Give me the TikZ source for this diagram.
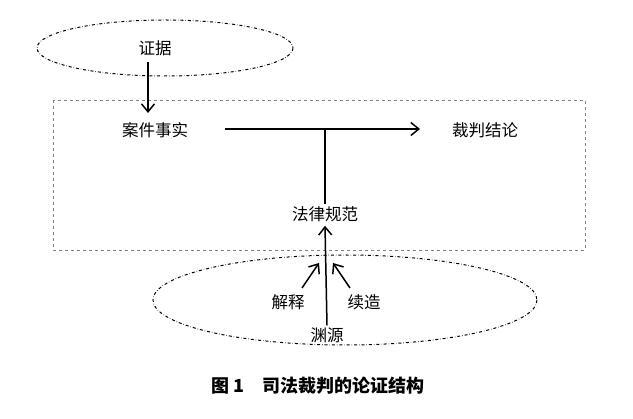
\documentclass[tikz,border=0pt]{standalone}
\usepackage{fontspec}
\setmainfont{Noto Sans CJK SC}
\usetikzlibrary{arrows.meta}
\begin{document}
\begin{tikzpicture}[x=1pt,y=-1pt,
  lbl/.style={font=\fontsize{16.5}{18}\selectfont,inner sep=2pt},
  arr/.style={-{Straight Barb[length=8pt,width=13pt]},line width=1.5pt},
  oval/.style={draw,dash dot,line width=1pt}]
\useasboundingbox (0,0) rectangle (633,419);
\draw[oval] (165,48) ellipse (128 and 28);
\draw[oval] (345,300) ellipse (192 and 45);
\draw[gray,dashed,line width=0.4pt] (53,100) rectangle (585,250);
\node[lbl] (ev) at (155,48) {证据};
\node[lbl] (fact) at (155,130) {案件事实};
\node[lbl] (conc) at (485,130) {裁判结论};
\node[lbl] (law) at (325,214) {法律规范};
\node[lbl] (interp) at (288,302) {解释};
\node[lbl] (cont) at (364,302) {续造};
\node[lbl] (src) at (327,335) {渊源};
\node[font=\bfseries\fontsize{18}{20}\selectfont] (cap) at (318,386) {图 1\quad 司法裁判的论证结构};
\coordinate (j) at (325,129);
\coordinate (fs) at (225,129);
\coordinate (ce) at (420,129);
\draw[arr] (148,62) -- (148,113);
\draw[arr] (fs) -- (ce);
\draw[line width=1.2pt] (j) -- (law.north);
\draw[arr] (src.north) -- ([yshift=-2pt]law.south);
\draw[arr] (302,288) -- (319,263);
\draw[arr] (350,288) -- (333,263);
\end{tikzpicture}
\end{document}
